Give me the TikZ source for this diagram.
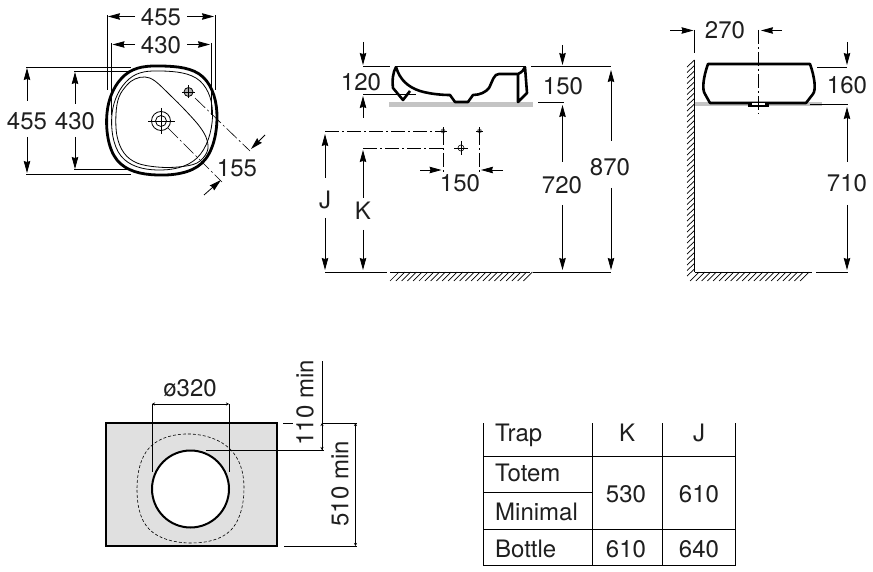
\documentclass[tikz,border=0pt]{standalone}
\usepackage{fontspec}
\setmainfont{TeX Gyre Heros}
\usetikzlibrary{arrows.meta}
\tikzset{
  lbl/.style={font=\fontsize{24}{28}\selectfont, inner sep=0pt, text=black!88},
  dimline/.style={line width=0.8pt},
  dimarrow/.style={line width=0.8pt, -{Stealth[length=12pt,width=6.5pt,inset=1pt]}},
  tickends/.style={line width=0.7pt, {Stealth[length=3pt,width=3pt]}-{Stealth[length=3pt,width=3pt]}},
  centerline/.style={line width=0.6pt, dash pattern=on 14pt off 3pt on 2pt off 3pt},
  outline/.style={line width=2.6pt, line join=round},
  hatchline/.style={line width=0.7pt},
  bench/.style={fill=black!23, draw=none}
}
\begin{document}
\begin{tikzpicture}[x=1pt,y=-1pt]
\useasboundingbox (0,0) rectangle (873,572);

% plan view of the basin
\draw[outline,line width=2.8pt] plot[smooth cycle,tension=0.66] coordinates {(162,66) (203,77) (217,118) (202,163) (157,175) (117,160) (107,113) (125,75)};
\draw[line width=0.8pt] plot[smooth cycle,tension=0.66] coordinates {(162,71) (200,81) (212.5,117) (197,158) (157,170) (121,156) (112,114) (129,79)};
\draw[line width=0.8pt] plot[smooth cycle,tension=0.6] coordinates {(127,85) (135,79) (145,77) (155,81) (170,95) (185,110) (200,127) (207,140) (207,152) (197,163) (178,167) (157,167) (137,163) (124,153) (117,136) (116,114) (119,97)};
\draw[line width=0.8pt] (161,121) circle (9.5pt);
\draw[line width=0.8pt] (161,121) circle (5.5pt);
\draw[line width=0.8pt] (148,121)--(175,121);
\draw[line width=0.8pt] (161,108)--(161,134);
\fill[black!30] (188.5,92) circle (4.5pt);
\draw[line width=0.8pt] (188.5,92) circle (4.5pt);
\draw[line width=0.8pt] (182,92)--(195,92);
\draw[line width=0.8pt] (188.5,85.5)--(188.5,98.5);
\draw[centerline] (168,128)--(222,182);
\draw[centerline] (195,98)--(250,151);

\draw[dimline] (107,15)--(107,90);
\draw[dimline] (215,15)--(215,90);
\draw[dimline] (111.5,43)--(111.5,115);
\draw[dimline] (211,43)--(211,115);
\draw[dimarrow] (135,16.5)--(108,16.5);
\draw[dimarrow] (187,16.5)--(214,16.5);
\draw[dimarrow] (135,44.5)--(112.5,44.5);
\draw[dimarrow] (187,44.5)--(210,44.5);
\node[lbl] (planwidthout) at (161,17) {455};
\node[lbl] (planwidthin) at (161,45) {430};

\draw[dimline] (26,67)--(131,67);
\draw[dimline] (26,174)--(131,174);
\draw[dimline] (74,71)--(132,71);
\draw[dimline] (74,169.5)--(130,169.5);
\draw[dimarrow] (27,101)--(27,68);
\draw[dimarrow] (27,137)--(27,173);
\draw[dimarrow] (75,104)--(75,72);
\draw[dimarrow] (75,137)--(75,169);
\node[lbl] (plandepthout) at (27,121) {455};
\node[lbl] (plandepthin) at (75,121) {430};

\draw[dimarrow] (265,135)--(251,149);
\draw[dimarrow] (204,195)--(221,180);
\node[lbl] (plantap) at (237,168) {155};

% front view
\fill[bench] (389,102) rectangle (533,107);
\draw[line width=0.8pt] (395,66)--(526,66);
\draw[outline] (396,67) .. controls (400,80) and (408,87) .. (420,91) .. controls (430,94) and (442,95) .. (450,95)
  -- (455,102) -- (468,102) -- (473,95) .. controls (480,95) and (486,92) .. (489,88) .. controls (493,80) and (494,74) .. (499,74)
  -- (518,74) .. controls (522,72) and (524,70) .. (525,67);
\draw[outline] (396,67) .. controls (393,72) and (392,80) .. (393,88) -- (403,100) -- (410,91);
\draw[outline] (518,74) -- (518,102) -- (527,93) -- (525,67);

\draw[dimline] (363,66)--(390,66);
\draw[dimline] (363,94)--(416,94);
\draw[dimarrow] (363,42)--(363,65);
\draw[dimarrow] (363,118)--(363,96);
\node[lbl] (frontrim) at (361,82) {120};

\draw[dimline] (531,66)--(611,66);
\draw[dimline] (538,102)--(564,102);
\draw[dimarrow] (562.5,45)--(562.5,65);
\node[lbl] (frontbowl) at (563,86) {150};
\draw[dimarrow] (562.5,162)--(562.5,105);
\draw[dimarrow] (562.5,205)--(562.5,270);
\node[lbl] (frontbench) at (562,185) {720};
\draw[dimarrow] (611,141)--(611,70);
\draw[dimarrow] (611,188)--(611,270);
\node[lbl] (fronttotal) at (610,167) {870};

\draw[dimline] (325,272)--(387,272);
\draw[dimline] (390,272)--(530,272);
\draw[dimline] (533,272)--(611,272);
\foreach \x in {390,395.8,...,525} {
  \draw[hatchline] (\x,281)--(\x+9,272);
}

\draw[centerline] (325,131)--(443,131);
\draw[centerline] (363,148)--(443,148);
\draw[centerline] (443,131)--(443,172);
\draw[centerline] (479.5,131)--(479.5,172);
\fill[black!50] (443,131) circle (2.4pt);
\fill[black!50] (479.5,131) circle (2.4pt);
\draw[line width=0.5pt] (439.5,131)--(446.5,131);
\draw[line width=0.5pt] (443,127.5)--(443,134.5);
\draw[line width=0.5pt] (476,131)--(483,131);
\draw[line width=0.5pt] (479.5,127.5)--(479.5,134.5);
\draw[line width=0.6pt] (461,148) circle (3pt);
\draw[line width=0.6pt] (454,148)--(468,148);
\draw[line width=0.6pt] (461,141)--(461,155);
\draw[dimarrow] (420,170)--(441.5,170);
\draw[dimarrow] (503,170)--(481,170);
\node[lbl] (fronttaps) at (460,183) {150};

\draw[dimarrow] (325,178)--(325,134);
\draw[dimarrow] (325,218)--(325,270);
\node[lbl] (frontj) at (325,200) {J};
\draw[dimarrow] (363,198)--(363,150);
\draw[dimarrow] (363,230)--(363,270);
\node[lbl] (frontk) at (363,211) {K};

% side view
\fill[bench] (695,102) rectangle (822,106);
\draw[outline] (710,103) -- (705,94) .. controls (702,90) and (703,78) .. (708,64) -- (810,64) .. controls (815,78) and (816,90) .. (813,94) -- (806,103) -- cycle;
\fill[black] (748,104) rectangle (769,107.5);
\fill[white] (752,103.5) rectangle (765,105);
\draw[centerline] (758,30)--(758,114);

\draw[dimline] (694.5,60)--(694.5,272);
\draw[dimline] (694.5,30)--(694.5,53);
\draw[dimline] (694.5,272)--(812,272);
\foreach \y in {60,65.5,...,270} {
  \draw[hatchline] (687,\y+7)--(694.5,\y);
}
\foreach \x in {690,695.8,...,805} {
  \draw[hatchline] (\x,281)--(\x+9,272);
}
\draw[dimarrow] (670,30.5)--(693.5,30.5);
\draw[dimarrow] (782,30.5)--(761,30.5);
\node[lbl] (sidewall) at (725,30) {270};

\draw[dimline] (817,67)--(847,67);
\draw[dimline] (810,104)--(848,104);
\draw[dimline] (816,272)--(848,272);
\draw[dimarrow] (847,42)--(847,65);
\node[lbl] (sideheight) at (847,85) {160};
\draw[dimarrow] (847,162)--(847,107);
\draw[dimarrow] (847,205)--(847,270);
\node[lbl] (sidebench) at (847,183) {710};

% cut-out in the worktop
\draw[fill=black!12,line width=2pt] (106,423) rectangle (277,546);
\draw[line width=0.6pt,dash pattern=on 3pt off 2pt] plot[smooth cycle,tension=0.66] coordinates {(190,434) (230,449) (244,487) (231,530) (190,543) (149,529) (137,488) (150,447)};
\draw[fill=white,line width=2pt] (190.5,489) circle (38.5pt);
\draw[dimline] (152,404)--(152,471.5);
\draw[dimline] (229,404)--(229,471.5);
\draw[tickends] (152,404)--(229,404);
\node[lbl] (cutdia) at (190,388) {ø320};

\draw[dimline] (322,361)--(322,450);
\draw[dimline] (206,450)--(324,450);
\draw[dimline] (283,423)--(293,423);
\draw[tickends] (322,450)--(322,423);
\draw[dimline] (322,423)--(357,423);
\draw[tickends] (355.5,423)--(355.5,546);
\draw[dimline] (284,546)--(357,546);
\node[lbl,rotate=90] (cuttop) at (305,403) {110 min};
\node[lbl,rotate=90] (cutside) at (340,484) {510 min};

% table
\draw[dimline] (483,423)--(483,565);
\draw[dimline] (592,423)--(592,565);
\draw[dimline] (662.5,423)--(662.5,565);
\draw[dimline] (735.5,423)--(735.5,565);
\draw[dimline] (483,456.5)--(735.5,456.5);
\draw[dimline] (483,492)--(592,492);
\draw[dimline] (483,529)--(735.5,529);
\draw[dimline] (483,565)--(735.5,565);
\node[lbl,anchor=west] (trap) at (495,435.5) {Trap};
\node[lbl] (headk) at (627,433) {K};
\node[lbl] (headj) at (699,433) {J};
\node[lbl,anchor=west] (totem) at (495,473) {Totem};
\node[lbl,anchor=west] (minimal) at (495,512) {Minimal};
\node[lbl,anchor=west] (bottle) at (495,549) {Bottle};
\node[lbl] (pairk) at (626,494) {530};
\node[lbl] (pairj) at (699,494) {610};
\node[lbl] (bottlek) at (626,549) {610};
\node[lbl] (bottlej) at (699,549) {640};
\end{tikzpicture}
\end{document}
